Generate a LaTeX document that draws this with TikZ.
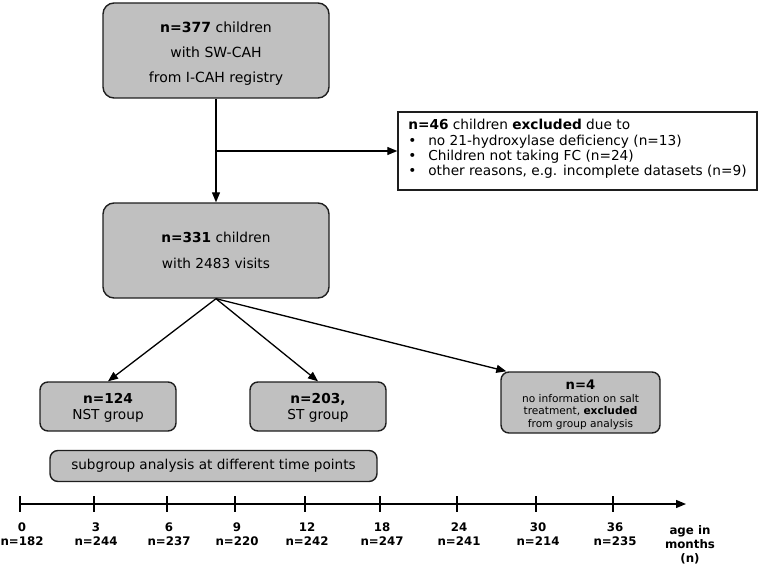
\documentclass[tikz,border=0pt]{standalone}
\usepackage{fontspec}
\setmainfont{DejaVu Sans}
\usetikzlibrary{arrows.meta,calc}
\definecolor{boxgray}{RGB}{192,192,192}
\definecolor{edge}{RGB}{30,30,30}
\begin{document}
\begin{tikzpicture}[x=1pt,y=-1pt,
  gbox/.style={draw=edge, line width=1.4pt, fill=boxgray, rounded corners=11pt, align=center, inner sep=0pt},
  sbox/.style={draw=edge, line width=1.4pt, fill=boxgray, rounded corners=8pt, align=center, inner sep=0pt},
  arr/.style={line width=1.3pt, draw=black, -{Triangle[length=10pt,width=8pt]}},
  tl/.style={font={\fontsize{11.8}{14}\selectfont\bfseries}, align=center, inner sep=0pt, anchor=north},
  tick/.style={line width=1.2pt}]
\useasboundingbox (0,0) rectangle (762,567);

\node[gbox, minimum width=226pt, minimum height=95pt, font={\fontsize{14}{25}\selectfont}] (b1) at (216,50.5)
  {\rule{0pt}{16pt}\textbf{n=377} children\\with SW-CAH\\from I-CAH registry};
\node[gbox, minimum width=226pt, minimum height=95pt, font={\fontsize{13.7}{26}\selectfont}] (b2) at (216,250.5)
  {\textbf{n=331} children\\with 2483 visits};

\node[draw=edge, line width=1.4pt, fill=white, align=left, inner sep=0pt,
      minimum width=359pt, minimum height=78pt, font={\fontsize{13.7}{15.3}\selectfont}] (ex) at (577.5,151)
  {\textbf{n=46} children \textbf{excluded} due to\\
   \makebox[20pt][l]{•}no 21-hydroxylase deficiency (n=13)\\
   \makebox[20pt][l]{•}Children not taking FC (n=24)\\
   \makebox[20pt][l]{•}other reasons, e.g. incomplete datasets (n=9)\rule[-7pt]{0pt}{0pt}};

\coordinate (br) at (b1.south |- ex.west);
\draw[arr] (b1.south) -- (b2.north);
\draw[arr] (br) -- (ex.west);

\node[sbox, minimum width=136pt, minimum height=49pt, font={\fontsize{13.7}{16}\selectfont}] (nst) at (108,406.5)
  {\rule{0pt}{12pt}\textbf{n=124}\\NST group};
\node[sbox, minimum width=136pt, minimum height=49pt, font={\fontsize{13.7}{16}\selectfont}] (st) at (318,406.5)
  {\rule{0pt}{12pt}\textbf{n=203,}\\ST group};
\node[sbox, minimum width=159pt, minimum height=61pt, font={\fontsize{10.6}{12.5}\selectfont}] (n4) at (580.5,402.5)
  {\rule{0pt}{14pt}{\fontsize{13.2}{13}\selectfont\textbf{n=4}}\\no information on salt\\treatment, \textbf{excluded}\\from group analysis};

\coordinate (n4in) at ($(n4.north west)+(6,0)$);
\draw[arr] (b2.south) -- (nst.north);
\draw[arr] (b2.south) -- (st.north);
\draw[arr] (b2.south) -- (n4in);

\node[sbox, minimum width=327pt, minimum height=31pt, font={\fontsize{13.6}{16}\selectfont}] (sg) at (213.5,466)
  {subgroup analysis at different time points};

% timeline
\coordinate (t0) at (20,504);
\coordinate (tend) at (686,504);
\draw[arr] (t0) -- (tend);
\foreach \x/\m/\n in {20/0/182, 94/3/244, 167/6/237, 235/9/220, 305/12/242, 380/18/247, 457/24/241, 536/30/214, 613/36/235}{
  \draw[tick] (\x,496) -- (\x,512);
  \node[tl] (lab\m) at (\x+2,523) {\m\\n=\n};
}
\node[tl] (age) at (690,525.5) {age in\\months\\(n)};
\end{tikzpicture}
\end{document}
